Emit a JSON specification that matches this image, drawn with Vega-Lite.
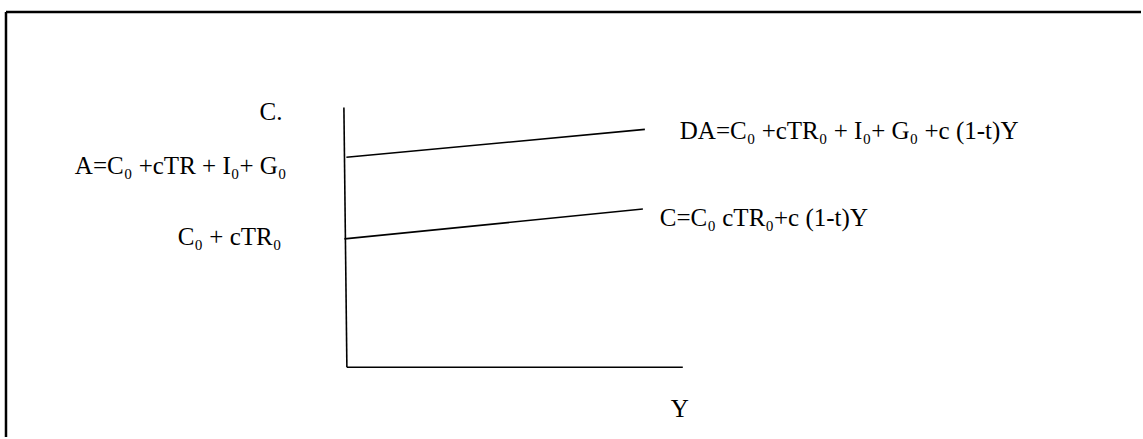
{
  "$schema": "https://vega.github.io/schema/vega-lite/v6.json",
  "width": 1143,
  "height": 439,
  "autosize": {"type": "fit", "contains": "padding"},
  "padding": 0,
  "background": "white",
  "config": {"view": {"stroke": null}},
  "datasets": {
    "lines": [
      {"name": "frame-top", "x": 6, "y": 12, "x2": 1143, "y2": 12, "w": 2.5},
      {"name": "frame-left", "x": 6, "y": 12, "x2": 6, "y2": 439, "w": 2.5},
      {"name": "axis-c", "x": 344.5, "y": 108, "x2": 347.5, "y2": 369, "w": 1.6},
      {"name": "axis-y", "x": 347.5, "y": 369, "x2": 684, "y2": 369, "w": 1.6},
      {"name": "DA", "x": 347, "y": 158, "x2": 646, "y2": 130, "w": 1.6},
      {"name": "C", "x": 345, "y": 240, "x2": 644, "y2": 210, "w": 1.6}
    ],
    "labels": [
      {"label": "C.", "x": 260, "y": 121},
      {"label": "A=C₀ +cTR + I₀+ G₀", "x": 75, "y": 175},
      {"label": "C₀ + cTR₀", "x": 178, "y": 246},
      {"label": "DA=C₀ +cTR₀ + I₀+ G₀ +c (1-t)Y", "x": 681, "y": 140},
      {"label": "C=C₀ cTR₀+c (1-t)Y", "x": 661, "y": 227},
      {"label": "Y", "x": 672, "y": 419}
    ]
  },
  "layer": [
    {
      "data": {"name": "lines"},
      "mark": {"type": "rule", "color": "black"},
      "encoding": {
        "x": {"field": "x", "type": "quantitative", "scale": {"domain": [0, 1143]}, "axis": null},
        "x2": {"field": "x2"},
        "y": {"field": "y", "type": "quantitative", "scale": {"domain": [0, 439], "reverse": true}, "axis": null},
        "y2": {"field": "y2"},
        "strokeWidth": {"field": "w", "type": "quantitative", "scale": null}
      }
    },
    {
      "data": {"name": "labels"},
      "mark": {"type": "text", "align": "left", "baseline": "alphabetic", "font": "'Liberation Serif', 'Times New Roman', serif", "fontSize": 25, "color": "black"},
      "encoding": {
        "x": {"field": "x", "type": "quantitative", "scale": {"domain": [0, 1143]}, "axis": null},
        "y": {"field": "y", "type": "quantitative", "scale": {"domain": [0, 439], "reverse": true}, "axis": null},
        "text": {"field": "label"}
      }
    }
  ]
}
